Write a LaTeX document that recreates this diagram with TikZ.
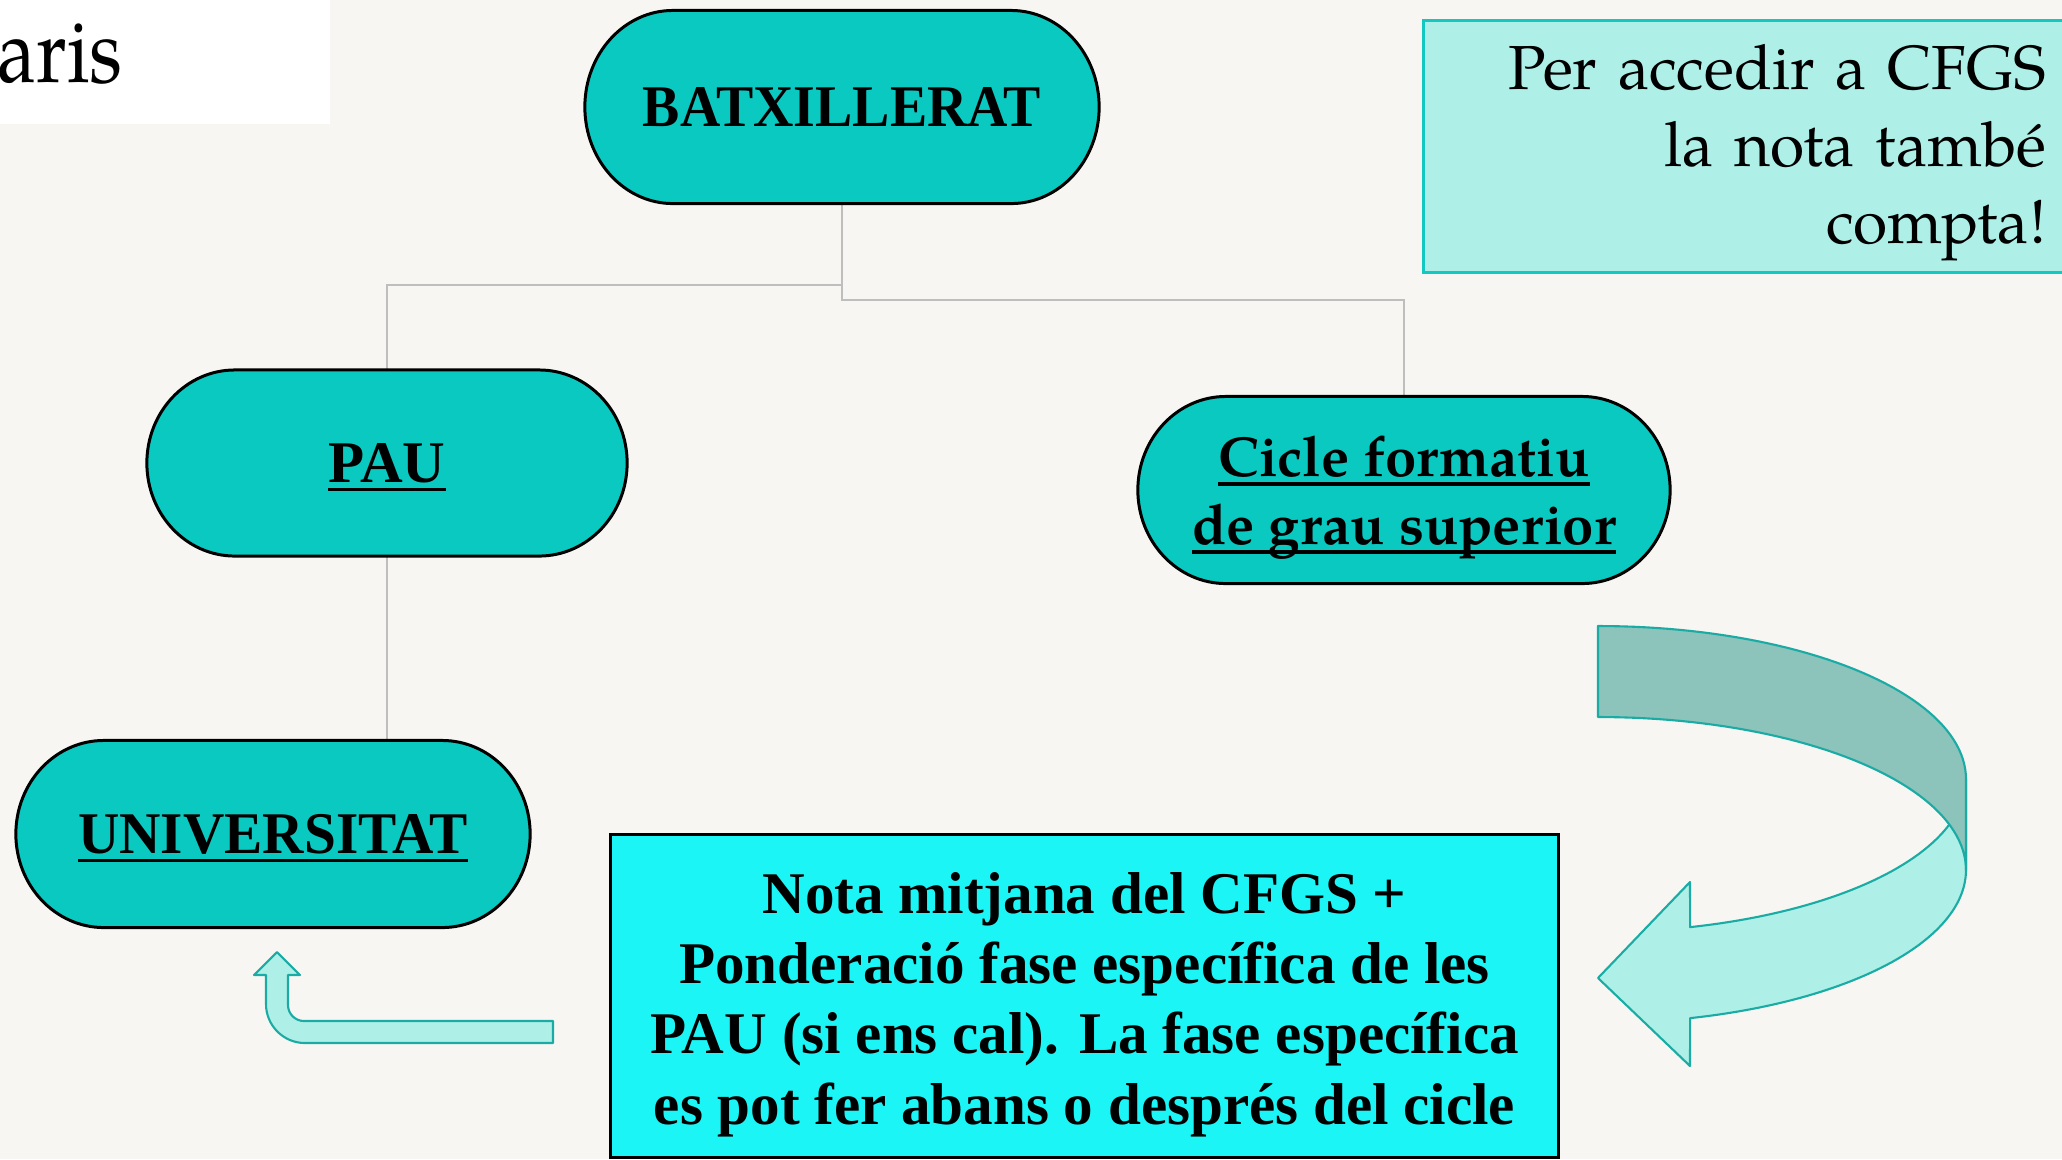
\documentclass[tikz,border=0pt]{standalone}
\usepackage{fontspec}
\setmainfont{Liberation Serif}
\newfontfamily\pal{texgyrepagella}[Extension=.otf,UprightFont=*-regular,BoldFont=*-bold,ItalicFont=*-italic,BoldItalicFont=*-bolditalic]
\definecolor{paper}{RGB}{248,246,243}
\definecolor{termfill}{RGB}{10,201,193}
\definecolor{notafill}{RGB}{28,245,245}
\definecolor{infofill}{RGB}{174,240,232}
\definecolor{infoline}{RGB}{18,200,192}
\definecolor{arrline}{RGB}{26,172,164}
\definecolor{arrdark}{RGB}{140,195,187}
\definecolor{connline}{RGB}{190,190,190}
\pgfdeclarelayer{bg}
\pgfsetlayers{bg,main}
\newcommand{\ulx}[1]{\setbox0=\hbox{#1}\rlap{\smash{\rule[-2.6pt]{\wd0}{0.95pt}}}\box0}
\newcommand{\termshape}[3]{%
  \filldraw[termborder] ([xshift=#2]#1.north west) -- ([xshift=-#2]#1.north east)
    arc[start angle=90,end angle=-90,x radius=#2,y radius=#3]
    -- ([xshift=#2]#1.south west)
    arc[start angle=270,end angle=90,x radius=#2,y radius=#3] -- cycle;}
\tikzset{
  termnode/.style={inner sep=0pt, outer sep=0pt, font=\fontsize{16.8pt}{20pt}\selectfont\bfseries},
  termborder/.style={fill=termfill, draw=black, line width=0.85pt},
  conn/.style={draw=connline, line width=0.6pt},
  notabox/.style={fill=notafill, draw=black, line width=0.85pt, inner sep=0pt, outer sep=0pt,
    font=\fontsize{16.8pt}{20pt}\selectfont\bfseries},
  infobox/.style={fill=infofill, draw=infoline, line width=0.85pt, outer sep=0pt,
    font=\pal\fontsize{17.7pt}{21.9pt}\selectfont},
  arrfront/.style={fill=infofill, draw=arrline, line width=0.6pt, line join=round},
  arrback/.style={fill=arrdark, draw=arrline, line width=0.6pt, line join=round},
}
\begin{document}
\begin{tikzpicture}[x=0.01cm,y=0.01cm]
\useasboundingbox (0,0) rectangle (2062,-1159);
\clip (0,0) rectangle (2062,-1159);
\begin{pgfonlayer}{bg}
  \fill[paper] (0,0) rectangle (2062,-1159);
  \fill[white] (0,0) rectangle (330,-124);
\end{pgfonlayer}

\node[anchor=base west, inner sep=0pt, font=\pal\fontsize{26pt}{30pt}\selectfont] (aris) at (-3,-82) {\scalebox{0.85}[1]{aris}};

\node[termnode, minimum width=5.14cm, minimum height=1.93cm] (bat) at (842,-107) {\scalebox{0.945}[1]{BATXILLERAT}};
\node[termnode, minimum width=4.80cm, minimum height=1.86cm] (pau) at (387,-463) {\ulx{PAU}};
\node[termnode, minimum width=5.32cm, minimum height=1.87cm, align=center,
      font=\pal\bfseries\fontsize{16pt}{19.3pt}\selectfont] (cfgs) at (1404,-490)
  {\rule{0pt}{15.9pt}\ulx{Cicle formatiu}\\\ulx{de grau superior}};
\node[termnode, minimum width=5.14cm, minimum height=1.87cm] (univ) at (273,-834) {\ulx{\scalebox{0.97}[1]{UNIVERSITAT}}};

\node[notabox, minimum width=9.47cm, minimum height=3.22cm, align=center] (nota) at (1084.5,-996)
  {\rule{0pt}{16.5pt}Nota mitjana del CFGS +\\Ponderació fase específica de les\\PAU (si ens cal). La fase específica\\es pot fer abans o després del cicle};

\node[infobox, anchor=north west, minimum height=2.52cm, text width=5.79cm, inner xsep=0.44cm,
      inner ysep=0pt, align=right] (info) at (1423,-20)
  {\rule{0pt}{16.5pt}Per accedir a CFGS\\la nota també\\compta!};

\begin{pgfonlayer}{bg}
  \path (bat.south) ++(0,-81) coordinate (j1) ++(0,-15) coordinate (j2);
  \draw[conn] (bat.south) -- (j2) -| (cfgs.north);
  \draw[conn] (j1) -| (pau.north);
  \draw[conn] (pau.south) -- (pau.south |- univ.north);
  \termshape{bat}{0.88cm}{0.965cm}
  \termshape{pau}{0.88cm}{0.93cm}
  \termshape{cfgs}{0.88cm}{0.935cm}
  \termshape{univ}{0.88cm}{0.935cm}
\end{pgfonlayer}

% curved arrow: front (light) band then back (dark) band
\filldraw[arrfront]
  plot[domain=-75.5:0, samples=50] ({1598+368*cos(\x)},{-779+153*sin(\x)})
  -- plot[domain=0:-75.5, samples=50] ({1598+368*cos(\x)},{-870+153*sin(\x)})
  -- (1690,-1066) -- (1598,-978) -- (1690,-882) -- cycle;
\filldraw[arrback]
  plot[domain=90:0, samples=50] ({1598+368*cos(\x)},{-779+153*sin(\x)})
  -- plot[domain=0:90, samples=50] ({1598+368*cos(\x)},{-870+153*sin(\x)})
  -- cycle;

% small bent-up arrow
\filldraw[arrfront] (553,-1021) -- (304,-1021)
  arc[start angle=270, end angle=180, radius=0.16cm]
  -- (288,-975) -- (300,-975) -- (277,-952) -- (254,-975) -- (266,-975) -- (266,-1004)
  arc[start angle=180, end angle=270, radius=0.39cm]
  -- (553,-1043) -- cycle;
\end{tikzpicture}
\end{document}
